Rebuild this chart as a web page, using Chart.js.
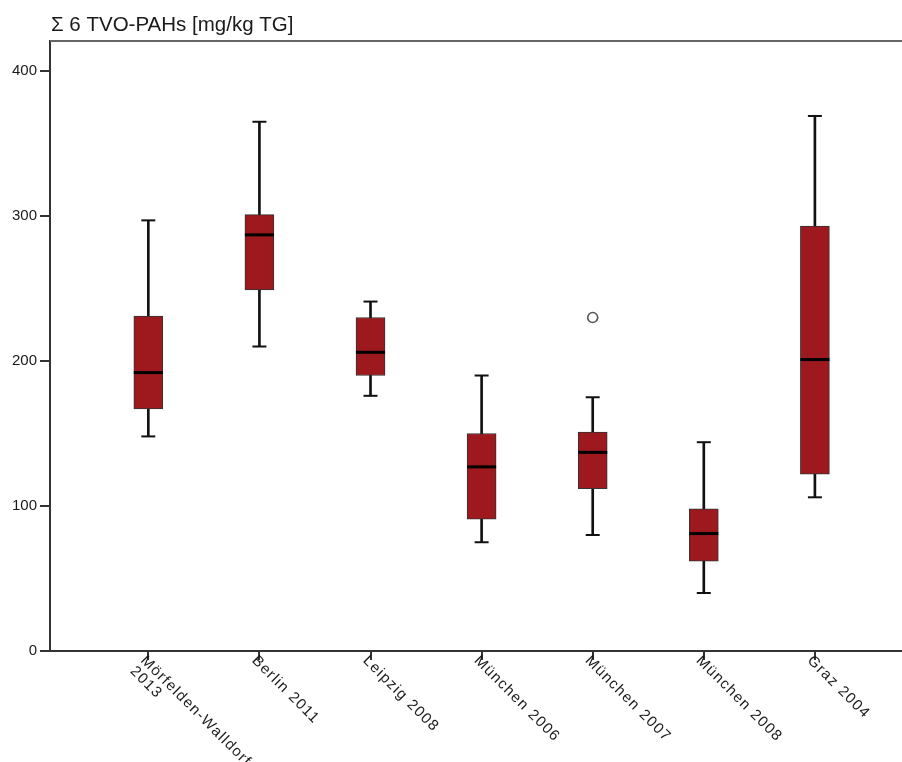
<!DOCTYPE html>
<html>
<head>
<meta charset="utf-8">
<title>Σ 6 TVO-PAHs</title>
<script src="https://cdn.jsdelivr.net/npm/chart.js@4.4.1/dist/chart.umd.min.js"></script>
<style>
  html, body { margin: 0; padding: 0; background: #fff; overflow: hidden; }
  canvas { display: block; }
</style>
</head>
<body>
<canvas id="pahBox" width="902" height="762"></canvas>
<script>
// Box plot of Σ 6 TVO-PAHs per sampling site (SPSS-style).
// Boxes = floating bars (Q1..Q3), whiskers = 2px floating bars,
// caps / medians = 'line' point style, outliers = hollow circles.
var sites = ['Mörfelden-Walldorf\n2013', 'Berlin 2011', 'Leipzig 2008', 'München 2006',
  'München 2007', 'München 2008', 'Graz 2004'];
var whiskerLow = [148, 210, 176, 75, 80, 40, 106];
var q1 = [167, 249, 190, 91, 112, 62, 122];
var median = [192, 287, 206, 127, 137, 81, 201];
var q3 = [231, 301, 230, 150, 151, 98, 293];
var whiskerHigh = [297, 365, 241, 190, 175, 144, 369];
var outlierSite = [4];
var outlierValue = [230];
var yTicks = [0, 100, 200, 300, 400];
var yTitle = 'Σ 6 TVO-PAHs [mg/kg TG]';

var FONT = '"Liberation Sans", Arial, sans-serif';
var INK = '#1a1a1a';
var AXIS = '#333';

function points(vals) {
  return vals.map(function (v, i) { return { x: i, y: v }; });
}

function ranges(lo, hi) {
  return lo.map(function (v, i) { return { x: i, y: [v, hi[i]] }; });
}

// Rotated category labels hang down-right from the tick, plus the
// horizontal axis title above the plot and the top frame line.
var decor = {
  id: 'decor',
  afterDraw: function (chart) {
    var ctx = chart.ctx;
    var area = chart.chartArea;
    var xs = chart.scales.x;

    ctx.save();
    ctx.strokeStyle = '#666';
    ctx.lineWidth = 2;
    ctx.beginPath();
    ctx.moveTo(area.left, area.top);
    ctx.lineTo(chart.width, area.top);
    ctx.stroke();

    ctx.fillStyle = INK;
    ctx.font = '20.5px ' + FONT;
    ctx.textAlign = 'left';
    ctx.textBaseline = 'alphabetic';
    ctx.fillText(yTitle, area.left + 1, 31);

    ctx.font = '15px ' + FONT;
    ctx.textBaseline = 'top';
    if ('letterSpacing' in ctx) ctx.letterSpacing = '1.3px';
    sites.forEach(function (name, i) {
      var px = xs.getPixelForValue(i);
      ctx.save();
      ctx.translate(px, area.bottom + 2);
      ctx.rotate(Math.PI / 4);
      name.split('\n').forEach(function (line, k) {
        ctx.fillText(line, 0, k * 15);
      });
      ctx.restore();
    });
    ctx.restore();
  }
};

new Chart(document.getElementById('pahBox').getContext('2d'), {
  type: 'bar',
  data: {
    datasets: [
      {
        type: 'scatter',
        label: 'Ausreißer',
        data: outlierSite.map(function (s, k) { return { x: s, y: outlierValue[k] }; }),
        pointStyle: 'circle',
        pointRadius: 5,
        pointBackgroundColor: '#fff',
        pointBorderColor: '#555',
        pointBorderWidth: 1.6,
        order: 0
      },
      {
        type: 'scatter',
        label: 'Median',
        data: points(median),
        pointStyle: 'line',
        pointRadius: 14.5,
        pointBorderColor: '#000',
        pointBorderWidth: 3,
        order: 0
      },
      {
        label: 'Box',
        data: ranges(q1, q3),
        backgroundColor: '#9d191d',
        borderColor: AXIS,
        borderWidth: 1,
        borderSkipped: false,
        barThickness: 29,
        grouped: false,
        order: 1
      },
      {
        label: 'Whisker',
        data: ranges(whiskerLow, whiskerHigh),
        backgroundColor: '#111',
        borderWidth: 0,
        barThickness: 2,
        grouped: false,
        order: 2
      },
      {
        type: 'scatter',
        label: 'Caps',
        data: points(whiskerLow).concat(points(whiskerHigh)),
        pointStyle: 'line',
        pointRadius: 7,
        pointBorderColor: '#111',
        pointBorderWidth: 2,
        order: 2
      }
    ]
  },
  options: {
    responsive: false,
    animation: false,
    devicePixelRatio: 1,
    layout: { autoPadding: false, padding: { top: 41, left: 0, right: 0, bottom: 0 } },
    plugins: {
      legend: { display: false },
      tooltip: { enabled: false },
      title: { display: false }
    },
    scales: {
      x: {
        type: 'linear',
        offset: false,
        min: -0.885,
        max: 6.784,
        afterBuildTicks: function (s) {
          s.ticks = sites.map(function (_, i) { return { value: i }; });
        },
        afterFit: function (s) {
          s.height = 111;
          s.paddingLeft = 0;
          s.paddingRight = 0;
        },
        border: { display: true, color: AXIS, width: 2 },
        grid: { offset: false, drawOnChartArea: false, drawTicks: true, tickLength: 9, color: AXIS, lineWidth: 2 },
        ticks: { display: false }
      },
      y: {
        min: 0,
        max: 420.7,
        afterBuildTicks: function (s) {
          s.ticks = yTicks.map(function (v) { return { value: v }; });
        },
        afterFit: function (s) {
          s.width = 50;
          s.paddingTop = 0;
          s.paddingBottom = 0;
        },
        border: { display: true, color: AXIS, width: 2 },
        grid: { drawOnChartArea: false, drawTicks: true, tickLength: 10, color: AXIS, lineWidth: 2 },
        ticks: { color: INK, padding: 3, font: { family: FONT, size: 15 } }
      }
    }
  },
  plugins: [decor]
});
</script>
</body>
</html>
